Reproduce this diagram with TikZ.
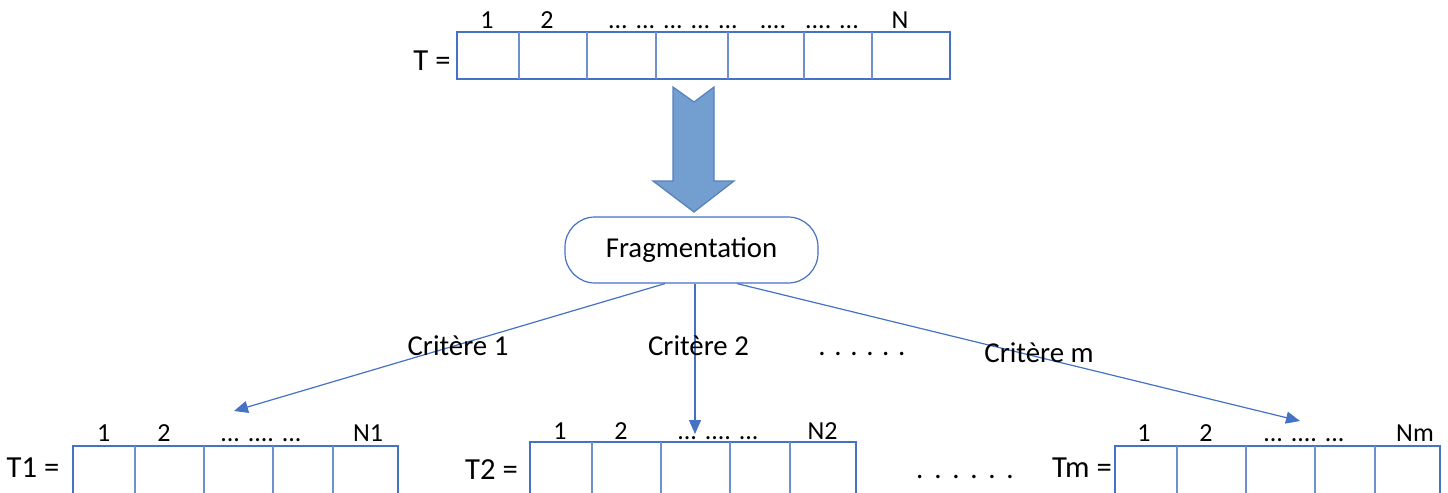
\documentclass[tikz,border=0pt]{standalone}
\usepackage{fontspec}
\setmainfont{Carlito}
\usetikzlibrary{arrows.meta,calc}
\definecolor{lineblue}{RGB}{68,114,196}
\definecolor{divblue}{RGB}{110,145,205}
\definecolor{arrowfill}{RGB}{114,159,207}
\definecolor{arrowedge}{RGB}{85,128,188}
\begin{document}
\begin{tikzpicture}[x=0.5pt,y=-0.5pt,
  arr/.style={draw=lineblue,line width=0.75pt,inner sep=0,outer sep=0},
  div/.style={draw=divblue,line width=0.7pt},
  conn/.style={draw=lineblue,line width=0.6pt,-{Triangle[length=7pt,width=6pt]}},
  big/.style={font=\fontsize{14.4}{17}\selectfont,inner sep=0,anchor=base},
  small/.style={font=\fontsize{13}{15}\selectfont,inner sep=0,anchor=base},
  tlab/.style={font=\fontsize{15.3}{18}\selectfont,inner sep=0,anchor=base},
]
\useasboundingbox (0,0) rectangle (1448,493);
\clip (0,0) rectangle (1448,493);

% top array
\node[arr,minimum width=246.5pt,minimum height=23.5pt] (T) at (703.5,55.5) {};
\foreach \x in {519,587,656,728,804,872} \draw[div] (\x,32) -- (\x,79);
\node[tlab] (Tlab) at (432,70) {T =};
\node[small] (t1) at (487,28) {1};
\node[small] (t2) at (547,28) {2};
\node[small] (t3) at (673,28) {... ... ... ... ...};
\node[small] (t4) at (773,28) {....};
\node[small] (t5) at (832,28) {.... ...};
\node[small] (tN) at (900,28) {N};

% big block arrow
\filldraw[fill=arrowfill,draw=arrowedge,line width=0.6pt] (673,87) -- (694,102) -- (714,87) -- (714,181) -- (734,181) -- (694,212) -- (653,181) -- (673,181) -- cycle;

% fragmentation
\node[draw=lineblue,line width=0.6pt,rounded corners=15pt,minimum width=126.5pt,minimum height=33pt,inner sep=0,font=\fontsize{14.4}{17}\selectfont] (frag) at (691.5,250) {Fragmentation};

% targets
\coordinate (e1) at (234,411);
\coordinate (e2) at (695,434);
\coordinate (e3) at (1300,421);
\draw[conn] ($(frag.south)+(-26.5,0)$) -- (e1);
\draw[conn] ($(frag.south)+(3.5,0)$) -- (e2);
\draw[conn] ($(frag.south)+(45.5,0)$) -- (e3);

\node[big] (c1) at (458,355) {Critère 1};
\node[big] (c2) at (698.5,355) {Critère 2};
\node[big] (cd) at (862,355) {. . . . . .};
\node[big] (cm) at (1039,362) {Critère m};

% T1
\node[arr,minimum width=162.5pt,minimum height=40pt] (T1) at (235.5,486) {};
\foreach \x in {135,204,273,333} \draw[div] (\x,446) -- (\x,500);
\node[tlab] (T1lab) at (33,477) {T1 =};
\node[small] (a1) at (103.6,441) {1};
\node[small] (a2) at (164,441) {2};
\node[small] (a3) at (261,441) {... .... ...};
\node[small] (aN) at (368,441) {N1};

% T2
\node[arr,minimum width=163pt,minimum height=40pt] (T2) at (693,482) {};
\foreach \x in {592,661,730,790} \draw[div] (\x,442) -- (\x,500);
\node[tlab] (T2lab) at (491.5,479) {T2 =};
\node[small] (b1) at (560,439) {1};
\node[small] (b2) at (621,439) {2};
\node[small] (b3) at (718,439) {... .... ...};
\node[small] (bN) at (822.5,439) {N2};

% dots between
\node[big] (bd) at (965,478) {.\hspace{5.4pt}.\hspace{5.4pt}.\hspace{5.4pt}.\hspace{5.4pt}.\hspace{5.4pt}.};

% Tm
\node[arr,minimum width=162.5pt,minimum height=40pt] (Tm) at (1277.5,486) {};
\foreach \x in {1177,1246,1315,1375} \draw[div] (\x,446) -- (\x,500);
\node[tlab] (Tmlab) at (1082,477) {Tm =};
\node[small] (m1) at (1144,441) {1};
\node[small] (m2) at (1206,441) {2};
\node[small] (m3) at (1304,441) {... .... ...};
\node[small] (mN) at (1415,441) {Nm};
\end{tikzpicture}
\end{document}
